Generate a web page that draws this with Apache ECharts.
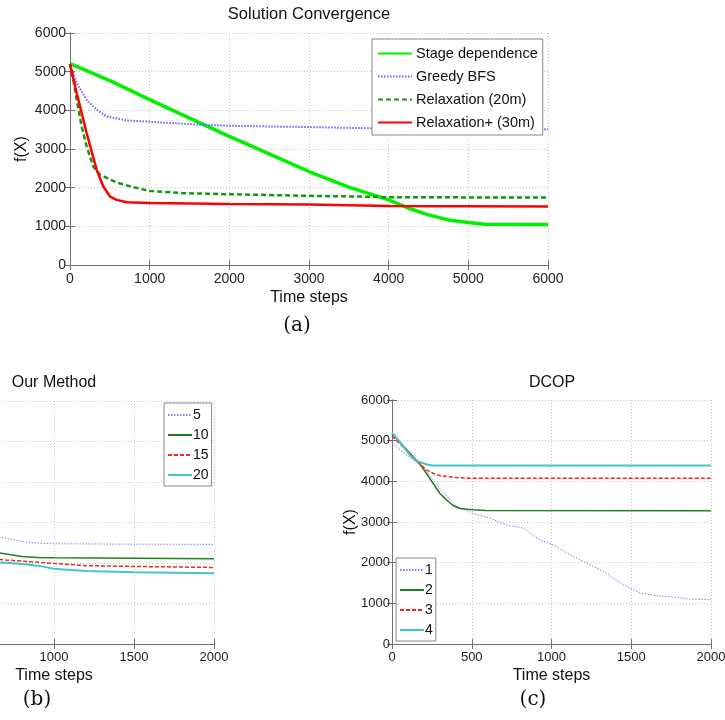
<!DOCTYPE html>
<html><head><meta charset="utf-8">
<script src="https://cdn.jsdelivr.net/npm/echarts@6/dist/echarts.min.js"></script>
<style>html,body{margin:0;padding:0;background:#fff}#c{width:725px;height:720px}</style>
</head><body><div id="c"></div>
<script>
// ---------- Chart (a): Solution Convergence ----------
const aTicksX = [0,1000,2000,3000,4000,5000,6000];
const aTicksY = [0,1000,2000,3000,4000,5000,6000];
const stageX = [0,500,1000,1500,2000,2500,3000,3500,4000,4250,4500,4750,5000,5200,6000];
const stageY = [5210,4770,4275,3800,3325,2876,2418,2012,1684,1468,1295,1166,1097,1054,1050];
const greedyX = [0,84,209,335,460,711,1000,1632,2000,3000,3640,4500,6000];
const greedyY = [5200,4706,4275,4016,3843,3739,3705,3627,3601,3567,3541,3525,3510];
const relaxX = [0,42,84,146,209,293,377,586,795,1000,1423,2000,3000,3640,4000,6000];
const relaxY = [5200,4793,4275,3584,3066,2547,2332,2133,2012,1917,1857,1831,1788,1770,1753,1744];
const relaxPX = [0,84,209,335,418,502,586,711,1000,2000,3000,4000,6000];
const relaxPY = [5200,4447,3411,2461,2029,1770,1684,1623,1606,1580,1563,1528,1511];

// ---------- Chart (b): Our Method ----------
const bX5 = [620,700,800,900,1000,1500,2000];
const bY5 = [2680,2610,2530,2490,2475,2465,2460];
const bX10 = [620,700,800,900,1000,1500,2000];
const bY10 = [2280,2220,2160,2135,2128,2118,2104];
const bX15 = [620,700,800,900,1000,1200,1500,2000];
const bY15 = [2100,2075,2045,2020,1990,1935,1915,1890];
const bX20 = [620,700,800,900,1000,1100,1200,1500,2000];
const bY20 = [2025,2005,1975,1935,1860,1830,1805,1770,1745];

// ---------- Chart (c): DCOP ----------
const c1X = [0,90,195,299,404,508,613,718,822,927,1010,1136,1241,1345,1450,1513,1554,1659,1764,1868,2000];
const c1Y = [4936,4650,4363,3831,3381,3217,3094,2930,2849,2562,2439,2153,1948,1743,1457,1334,1252,1187,1154,1105,1089];
const c2X = [0,90,174,215,257,299,341,383,425,508,592,2000];
const c2Y = [5165,4789,4428,4199,3953,3708,3544,3405,3331,3299,3282,3274];
const c3X = [0,90,174,215,257,299,404,508,2000];
const c3Y = [5116,4772,4428,4281,4199,4142,4093,4076,4076];
const c4X = [0,48,111,153,215,250,2000];
const c4Y = [5198,4977,4650,4502,4420,4390,4387];

const zip = (xs, ys) => xs.map((x, i) => [x, ys[i]]);

const FONT = 'Liberation Sans';
const gridLine = {show:true, lineStyle:{color:'#c8c8c8', type:[1,2], width:1}};
const axLine = {show:true, lineStyle:{color:'#707070', width:1}};
const tick = {show:true, inside:true, length:5, lineStyle:{color:'#707070'}};
const plain = v => String(v);

function axesFor(gi, xmax, xint, fs, yGap, yMargin) {
  const xs = [
    {type:'value', gridIndex:gi, min:0, max:xmax, interval:xint, position:'bottom',
     axisLine:axLine, axisTick:tick, splitLine:gridLine,
     axisLabel:{color:'#222', fontSize:fs, fontFamily:FONT, margin:7, formatter:plain},
     name:'Time steps', nameLocation:'middle', nameGap:fs+11, nameMoveOverlap:false,
     nameTextStyle:{color:'#111', fontSize:16, fontFamily:FONT}},
    {type:'value', gridIndex:gi, min:0, max:xmax, interval:xint, position:'top',
     axisLine:axLine, axisTick:tick, splitLine:{show:false}, axisLabel:{show:false}}
  ];
  const ys = [
    {type:'value', gridIndex:gi, min:0, max:6000, interval:1000, position:'left',
     axisLine:axLine, axisTick:tick, splitLine:gridLine,
     axisLabel:{color:'#222', fontSize:fs, fontFamily:FONT, margin:yMargin, formatter:plain},
     name:'f(X)', nameLocation:'middle', nameGap:yGap, nameMoveOverlap:false,
     nameTextStyle:{color:'#111', fontSize:16, fontFamily:FONT}},
    {type:'value', gridIndex:gi, min:0, max:6000, interval:1000, position:'right',
     axisLine:axLine, axisTick:tick, splitLine:{show:false}, axisLabel:{show:false}}
  ];
  return {xs, ys};
}
const A = axesFor(0, 6000, 1000, 14, 40, 4);
const B = axesFor(1, 2000, 500, 13, 33, 2);
const C = axesFor(2, 2000, 500, 13, 33, 2);

function line(name, xi, yi, data, color, width, type) {
  return {name, type:'line', xAxisIndex:xi, yAxisIndex:yi, data, symbol:'none',
    lineStyle:{color, width, type}, itemStyle:{color}, clip:true};
}

const legendBase = {orient:'vertical', backgroundColor:'#fff', borderColor:'#888', borderWidth:1, borderRadius:0,
  itemStyle:{opacity:0}};

const option = {
  animation:false,
  backgroundColor:'#fff',
  grid:[
    {left:70, top:33, width:478, height:232, outerBoundsMode:'none', containLabel:false},
    {left:-106, top:401, width:320, height:243, outerBoundsMode:'none', containLabel:false},
    {left:392, top:400, width:319, height:244, outerBoundsMode:'none', containLabel:false}
  ],
  xAxis:[...A.xs, ...B.xs, ...C.xs],
  yAxis:[...A.ys, ...B.ys, ...C.ys],
  legend:[
    Object.assign({}, legendBase, {left:372, top:39, padding:[7,5,5,5], itemGap:8, itemWidth:34, itemHeight:14,
     textStyle:{fontSize:14.5, fontFamily:FONT, color:'#111', padding:[0,0,0,-1]},
     data:['Stage dependence','Greedy BFS','Relaxation (20m)','Relaxation+ (30m)']}),
    Object.assign({}, legendBase, {left:164, top:403, padding:[5,3,4,3], itemGap:6, itemWidth:24, itemHeight:14,
     textStyle:{fontSize:14, fontFamily:FONT, color:'#111', padding:[0,0,0,-4]},
     data:['5','10','15','20']}),
    Object.assign({}, legendBase, {left:396, top:558, padding:[5,3,4,3], itemGap:6, itemWidth:24, itemHeight:14,
     textStyle:{fontSize:14, fontFamily:FONT, color:'#111', padding:[0,0,0,-4]},
     data:['1','2','3','4']})
  ],
  graphic:[
    {type:'text', style:{text:'Solution Convergence', x:309, y:14, textAlign:'center', textVerticalAlign:'middle', font:'16.5px "Liberation Sans"', fill:'#111'}},
    {type:'text', style:{text:'Our Method', x:54, y:383, textAlign:'center', textVerticalAlign:'middle', font:'16px "Liberation Sans"', fill:'#111'}},
    {type:'text', style:{text:'DCOP', x:552, y:383, textAlign:'center', textVerticalAlign:'middle', font:'16px "Liberation Sans"', fill:'#111'}},
    {type:'text', style:{text:'(a)', x:297, y:326, textAlign:'center', textVerticalAlign:'middle', font:'20px "DejaVu Serif"', fill:'#111'}},
    {type:'text', style:{text:'(b)', x:37, y:700, textAlign:'center', textVerticalAlign:'middle', font:'20px "DejaVu Serif"', fill:'#111'}},
    {type:'text', style:{text:'(c)', x:533, y:700, textAlign:'center', textVerticalAlign:'middle', font:'20px "DejaVu Serif"', fill:'#111'}}
  ],
  series:[
    line('Stage dependence', 0, 0, zip(stageX, stageY), '#00f000', 3.5, 'solid'),
    line('Greedy BFS', 0, 0, zip(greedyX, greedyY), '#6464ff', 2, [1.5,1.5]),
    line('Relaxation (20m)', 0, 0, zip(relaxX, relaxY), '#149614', 2.5, [5,3]),
    line('Relaxation+ (30m)', 0, 0, zip(relaxPX, relaxPY), '#ff0000', 2.5, 'solid'),
    line('5', 2, 2, zip(bX5, bY5), '#8080ff', 1, [1.5,1.5]),
    line('10', 2, 2, zip(bX10, bY10), '#1e801e', 1.5, 'solid'),
    line('15', 2, 2, zip(bX15, bY15), '#ff2020', 1.5, [4,2]),
    line('20', 2, 2, zip(bX20, bY20), '#40c8c8', 2, 'solid'),
    line('1', 4, 4, zip(c1X, c1Y), '#8080ff', 1, [1.5,1.5]),
    line('2', 4, 4, zip(c2X, c2Y), '#1e801e', 1.5, 'solid'),
    line('3', 4, 4, zip(c3X, c3Y), '#ff2020', 1.5, [4,2]),
    line('4', 4, 4, zip(c4X, c4Y), '#40c8c8', 2, 'solid')
  ]
};
const chart = echarts.init(document.getElementById('c'), null, {renderer:'canvas'});
chart.setOption(option);
</script></body></html>
